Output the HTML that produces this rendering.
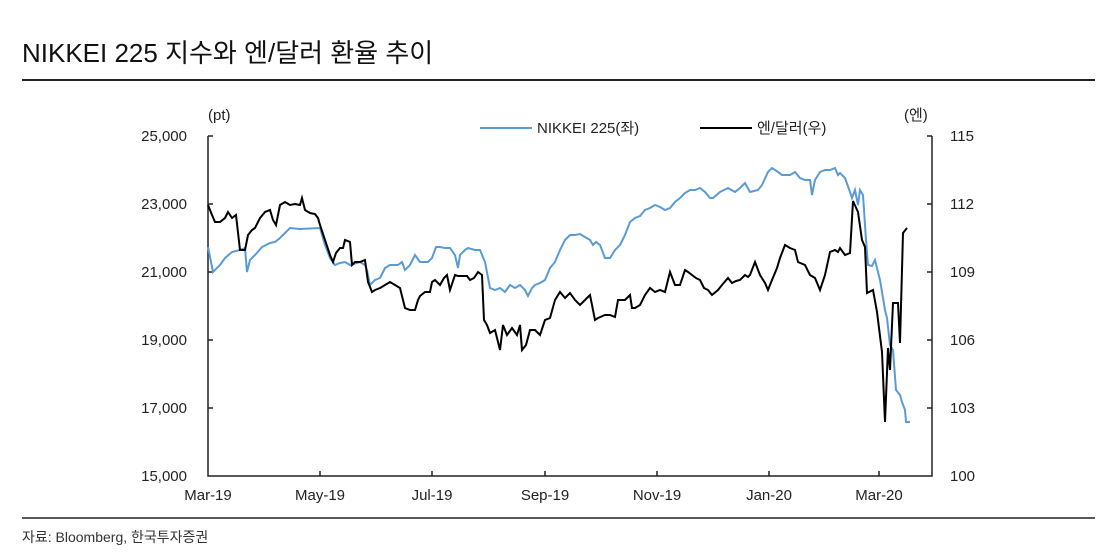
<!DOCTYPE html>
<html><head><meta charset="utf-8"><style>
body{margin:0;background:#fff;width:1104px;height:549px;overflow:hidden;font-family:"Liberation Sans","Noto Sans CJK KR",sans-serif;}
</style></head><body>
<svg width="1104" height="549" xmlns="http://www.w3.org/2000/svg" font-family="Liberation Sans, Noto Sans CJK KR, sans-serif">
<text x="22" y="62" font-size="26" fill="#111">NIKKEI 225 지수와 엔/달러 환율 추이</text>
<line x1="22" y1="80" x2="1095" y2="80" stroke="#222" stroke-width="2"/>
<line x1="22" y1="518" x2="1095" y2="518" stroke="#222" stroke-width="1.5"/>
<text x="22" y="542" font-size="14" fill="#333">자료: Bloomberg, 한국투자증권</text>
<g font-size="15" fill="#222">
<text x="208" y="120">(pt)</text>
<text x="904" y="120">(엔)</text>
<text x="187" y="141" text-anchor="end">25,000</text>
<text x="187" y="209" text-anchor="end">23,000</text>
<text x="187" y="277" text-anchor="end">21,000</text>
<text x="187" y="345" text-anchor="end">19,000</text>
<text x="187" y="413" text-anchor="end">17,000</text>
<text x="187" y="481" text-anchor="end">15,000</text>
<text x="950" y="141">115</text>
<text x="950" y="209">112</text>
<text x="950" y="277">109</text>
<text x="950" y="345">106</text>
<text x="950" y="413">103</text>
<text x="950" y="481">100</text>
<text x="208" y="500" text-anchor="middle">Mar-19</text>
<text x="320" y="500" text-anchor="middle">May-19</text>
<text x="432" y="500" text-anchor="middle">Jul-19</text>
<text x="545" y="500" text-anchor="middle">Sep-19</text>
<text x="657" y="500" text-anchor="middle">Nov-19</text>
<text x="769" y="500" text-anchor="middle">Jan-20</text>
<text x="879" y="500" text-anchor="middle">Mar-20</text>
<text x="537" y="133">NIKKEI 225(좌)</text>
<text x="757" y="133">엔/달러(우)</text>
</g>
<line x1="480" y1="128" x2="532" y2="128" stroke="#5b9bd5" stroke-width="2"/>
<line x1="700" y1="128" x2="752" y2="128" stroke="#000" stroke-width="2"/>
<g stroke="#222" stroke-width="1.5" fill="none">
<path d="M208,136V476H932V136"/>
<path d="M208,136h5M208,204h5M208,272h5M208,340h5M208,408h5"/>
<path d="M932,136h-5M932,204h-5M932,272h-5M932,340h-5M932,408h-5"/>
<path d="M320,476v-5M432,476v-5M545,476v-5M657,476v-5M769,476v-5M879,476v-5"/>
</g>
<polyline fill="none" stroke="#5b9bd5" stroke-width="2" points="208,247 213,272 220,265 225,258 232,252 240,250 245,248 247,272 250,260 255,255 262,247 270,243 275,242 280,238 285,233 290,228 300,229 320,228 325,245 330,258 335,265 340,263 345,262 350,265 360,262 365,265 367,270 370,285 375,280 380,278 385,268 390,265 398,265 402,262 405,270 410,265 415,255 420,262 428,262 432,258 436,247 440,247 445,248 450,248 455,255 458,268 460,255 465,250 468,248 475,250 480,250 485,262 490,288 495,290 500,288 505,292 510,285 515,288 520,285 525,290 528,296 532,288 535,285 540,283 545,280 550,268 555,262 560,250 565,240 570,235 575,235 580,234 585,237 590,240 593,245 596,242 600,245 605,258 610,258 615,250 620,245 625,235 630,222 635,218 640,216 645,210 650,208 655,205 660,207 665,210 670,208 675,202 680,198 685,193 690,190 695,190 700,188 705,192 710,198 713,198 720,192 728,188 735,192 740,188 745,183 750,192 758,190 762,185 768,172 772,168 778,172 782,175 790,175 795,172 800,178 805,180 810,180 812,195 815,180 820,172 825,170 830,170 835,168 838,175 840,173 845,178 850,192 852,198 855,190 858,205 860,190 863,195 866,240 868,265 872,266 875,260 877,268 880,280 885,310 887,318 890,345 893,350 896,390 900,395 902,402 905,410 906,422 910,422"/>
<polyline fill="none" stroke="#000" stroke-width="2" points="208,205 212,215 215,222 220,222 225,218 228,212 232,218 236,215 240,250 245,250 248,235 252,230 255,228 260,218 265,212 270,210 273,220 276,225 280,205 285,202 290,205 295,204 300,205 302,198 305,210 310,213 315,214 318,218 320,225 325,240 330,255 333,262 336,253 340,248 343,248 345,240 350,242 352,265 355,262 360,262 365,260 368,282 372,292 375,290 380,288 385,285 390,282 395,285 400,288 405,308 410,310 415,310 418,300 420,296 425,292 430,292 432,282 435,280 440,285 444,278 447,275 450,290 455,275 458,276 462,276 467,276 470,280 474,278 478,272 482,275 484,320 487,325 490,333 495,330 500,350 503,325 507,335 512,328 517,335 520,325 522,350 526,345 530,330 535,330 540,335 545,320 550,318 555,300 560,292 565,298 570,293 575,300 580,305 585,300 590,295 595,320 598,318 605,315 610,315 615,317 618,300 625,300 630,295 632,308 635,308 640,305 645,295 650,288 655,292 660,290 665,292 670,272 675,285 680,285 685,270 688,272 692,275 696,278 700,280 704,288 708,290 712,295 718,290 722,285 728,278 732,283 736,281 740,280 745,275 748,277 750,275 755,262 760,275 765,283 768,290 772,280 777,268 780,258 785,245 790,248 795,250 798,262 805,265 810,275 815,278 820,290 825,275 830,252 835,250 838,252 840,248 845,255 850,253 853,201 858,212 862,240 865,247 867,293 873,290 877,312 882,352 885,422 888,348 890,370 893,303 898,303 900,343 903,233 907,228"/>
</svg>
</body></html>
